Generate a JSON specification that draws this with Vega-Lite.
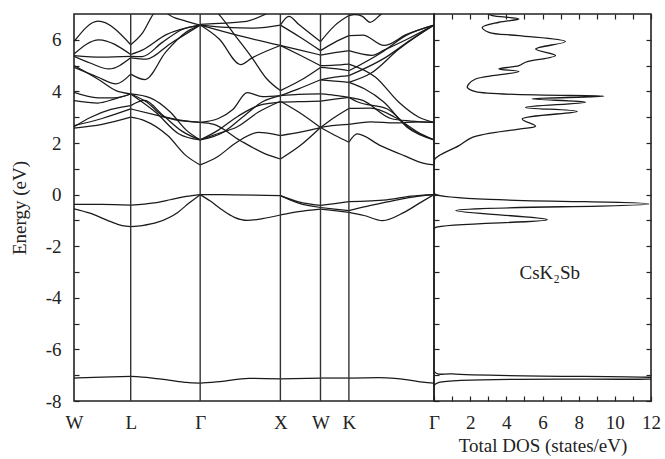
{
"$schema":"https://vega.github.io/schema/vega-lite/v6.json",
"background":"white",
"padding":{"left":9,"top":12,"right":0,"bottom":5},
"config":{
 "font":"Liberation Serif",
 "view":{"stroke":"#222","strokeWidth":1.6},
 "axis":{"domain":false,"grid":false,"labelFont":"Liberation Serif","titleFont":"Liberation Serif","labelColor":"#222","titleColor":"#222","tickColor":"#222","labelFontSize":19,"titleFontSize":19,"titleFontWeight":"normal","tickSize":-5,"tickWidth":1.2,"labelFlush":false}
},
"datasets":{
"kpts":[{"k":0.707},{"k":1.573},{"k":2.573},{"k":3.073},{"k":3.427}],
"lbl":[{"D":6.4,"E":-3.05,"t":"CsK₂Sb"}],
"dos":[
{"E":7.0,"D":3.0},{"E":6.94,"D":3.22},{"E":6.81,"D":4.7},{"E":6.68,"D":3.59},{"E":6.48,"D":2.67},{"E":6.29,"D":3.04},{"E":6.16,"D":4.7},{"E":5.93,"D":7.27},{"E":5.64,"D":5.62},{"E":5.39,"D":6.72},{"E":5.13,"D":5.06},{"E":5.0,"D":4.7},{"E":4.87,"D":3.59},{"E":4.77,"D":4.7},{"E":4.48,"D":2.3},{"E":4.29,"D":1.93},{"E":4.16,"D":1.84},{"E":3.99,"D":2.3},{"E":3.81,"D":9.39},{"E":3.71,"D":5.43},{"E":3.58,"D":8.38},{"E":3.38,"D":5.06},{"E":3.22,"D":7.92},{"E":2.93,"D":4.88},{"E":2.65,"D":5.62},{"E":2.54,"D":4.7},{"E":2.22,"D":2.12},{"E":1.9,"D":1.38},{"E":1.51,"D":0.28},{"E":1.38,"D":0.05},{"E":1.2,"D":0.0},{"E":0.15,"D":0.0},{"E":0.02,"D":0.05},{"E":-0.36,"D":11.88},{"E":-0.62,"D":1.2},{"E":-0.97,"D":6.26},{"E":-1.27,"D":0.09},{"E":-1.35,"D":0.0},{"E":-6.85,"D":0.0},{"E":-6.95,"D":1.01},{"E":-7.08,"D":11.9},{"E":-7.115,"D":13.0},{"E":-7.15,"D":11.9},{"E":-7.28,"D":0.28},{"E":-7.4,"D":0.0},{"E":-8.0,"D":0.0}
],
"bands":[
{"b":"wl_v1","k":0,"E":-0.38},{"b":"wl_v1","k":0.35,"E":-0.38},{"b":"wl_v1","k":0.707,"E":-0.41},
{"b":"wl_v2","k":0,"E":-0.55},{"b":"wl_v2","k":0.2,"E":-0.72},{"b":"wl_v2","k":0.45,"E":-1.04},{"b":"wl_v2","k":0.6,"E":-1.2},{"b":"wl_v2","k":0.707,"E":-1.24},
{"b":"wl_s","k":0,"E":-7.11},{"b":"wl_s","k":0.35,"E":-7.07},{"b":"wl_s","k":0.707,"E":-7.05},
{"b":"wl_c1","k":0,"E":2.58},{"b":"wl_c1","k":0.35,"E":2.72},{"b":"wl_c1","k":0.707,"E":3.0},
{"b":"wl_c2","k":0,"E":2.67},{"b":"wl_c2","k":0.35,"E":2.95},{"b":"wl_c2","k":0.707,"E":3.32},
{"b":"wl_c3","k":0,"E":2.63},{"b":"wl_c3","k":0.21,"E":3.0},{"b":"wl_c3","k":0.46,"E":3.3},{"b":"wl_c3","k":0.707,"E":3.45},
{"b":"wl_c4","k":0,"E":3.96},{"b":"wl_c4","k":0.3,"E":3.75},{"b":"wl_c4","k":0.5,"E":3.75},{"b":"wl_c4","k":0.707,"E":3.9},
{"b":"wl_c5","k":0,"E":3.64},{"b":"wl_c5","k":0.3,"E":3.55},{"b":"wl_c5","k":0.5,"E":3.7},{"b":"wl_c5","k":0.707,"E":3.9},
{"b":"wl_F","k":0,"E":5.0},{"b":"wl_F","k":0.295,"E":4.48},{"b":"wl_F","k":0.524,"E":4.03},{"b":"wl_F","k":0.707,"E":3.9},
{"b":"wl_E","k":0,"E":4.93},{"b":"wl_E","k":0.3,"E":4.55},{"b":"wl_E","k":0.524,"E":4.29},{"b":"wl_E","k":0.707,"E":4.67},
{"b":"wl_D","k":0,"E":5.36},{"b":"wl_D","k":0.2,"E":5.1},{"b":"wl_D","k":0.436,"E":4.87},{"b":"wl_D","k":0.707,"E":5.3},
{"b":"wl_C","k":0,"E":5.39},{"b":"wl_C","k":0.35,"E":5.33},{"b":"wl_C","k":0.707,"E":5.36},
{"b":"wl_B","k":0,"E":5.45},{"b":"wl_B","k":0.31,"E":6.0},{"b":"wl_B","k":0.707,"E":5.43},
{"b":"wl_A","k":0,"E":5.93},{"b":"wl_A","k":0.3,"E":6.72},{"b":"wl_A","k":0.707,"E":5.81},
{"b":"lg_v1","k":0.707,"E":-0.41},{"b":"lg_v1","k":1.0,"E":-0.32},{"b":"lg_v1","k":1.2,"E":-0.2},{"b":"lg_v1","k":1.4,"E":-0.07},{"b":"lg_v1","k":1.573,"E":0},
{"b":"lg_v2","k":0.707,"E":-1.24},{"b":"lg_v2","k":0.85,"E":-1.2},{"b":"lg_v2","k":1.044,"E":-1.07},{"b":"lg_v2","k":1.293,"E":-0.69},{"b":"lg_v2","k":1.434,"E":-0.33},{"b":"lg_v2","k":1.573,"E":0},
{"b":"lg_s","k":0.707,"E":-7.05},{"b":"lg_s","k":0.95,"E":-7.1},{"b":"lg_s","k":1.2,"E":-7.2},{"b":"lg_s","k":1.4,"E":-7.28},{"b":"lg_s","k":1.573,"E":-7.31},
{"b":"lg_c1","k":0.707,"E":3.0},{"b":"lg_c1","k":0.877,"E":2.87},{"b":"lg_c1","k":1.168,"E":2.29},{"b":"lg_c1","k":1.397,"E":1.51},{"b":"lg_c1","k":1.573,"E":1.15},
{"b":"lg_c2","k":0.707,"E":3.32},{"b":"lg_c2","k":1.0,"E":3.1},{"b":"lg_c2","k":1.3,"E":2.88},{"b":"lg_c2","k":1.573,"E":2.8},
{"b":"lg_c3","k":0.707,"E":3.45},{"b":"lg_c3","k":0.88,"E":3.65},{"b":"lg_c3","k":1.1,"E":3.1},{"b":"lg_c3","k":1.35,"E":2.45},{"b":"lg_c3","k":1.573,"E":2.12},
{"b":"lg_c4","k":0.707,"E":3.9},{"b":"lg_c4","k":1.018,"E":3.19},{"b":"lg_c4","k":1.309,"E":2.35},{"b":"lg_c4","k":1.573,"E":2.12},
{"b":"lg_c5","k":0.707,"E":3.9},{"b":"lg_c5","k":0.9,"E":3.6},{"b":"lg_c5","k":1.143,"E":3.0},{"b":"lg_c5","k":1.573,"E":2.8},
{"b":"lg_F","k":0.707,"E":3.9},{"b":"lg_F","k":0.95,"E":3.75},{"b":"lg_F","k":1.2,"E":3.2},{"b":"lg_F","k":1.4,"E":2.5},{"b":"lg_F","k":1.573,"E":2.12},
{"b":"lg_E","k":0.707,"E":4.67},{"b":"lg_E","k":0.885,"E":4.46},{"b":"lg_E","k":1.143,"E":5.52},{"b":"lg_E","k":1.4,"E":6.3},{"b":"lg_E","k":1.573,"E":6.57},
{"b":"lg_D","k":0.707,"E":5.3},{"b":"lg_D","k":0.9,"E":5.25},{"b":"lg_D","k":1.2,"E":5.85},{"b":"lg_D","k":1.573,"E":6.57},
{"b":"lg_C","k":0.707,"E":5.36},{"b":"lg_C","k":0.85,"E":5.35},{"b":"lg_C","k":1.1,"E":5.9},{"b":"lg_C","k":1.35,"E":6.4},{"b":"lg_C","k":1.573,"E":6.57},
{"b":"lg_B","k":0.707,"E":5.43},{"b":"lg_B","k":0.85,"E":5.6},{"b":"lg_B","k":1.15,"E":6.2},{"b":"lg_B","k":1.573,"E":6.57},
{"b":"lg_A","k":0.707,"E":5.81},{"b":"lg_A","k":0.857,"E":6.28},{"b":"lg_A","k":1.0,"E":7.05},{"b":"lg_A","k":1.085,"E":7.3},{"b":"lg_A","k":1.172,"E":7.0},{"b":"lg_A","k":1.376,"E":6.74},{"b":"lg_A","k":1.573,"E":6.57},
{"b":"gx_v1","k":1.573,"E":0},{"b":"gx_v1","k":2.0,"E":-0.01},{"b":"gx_v1","k":2.573,"E":-0.04},
{"b":"gx_v2","k":1.573,"E":0},{"b":"gx_v2","k":1.7,"E":-0.25},{"b":"gx_v2","k":1.85,"E":-0.6},{"b":"gx_v2","k":2.0,"E":-0.88},{"b":"gx_v2","k":2.16,"E":-1.0},{"b":"gx_v2","k":2.35,"E":-0.93},{"b":"gx_v2","k":2.573,"E":-0.79},
{"b":"gx_s","k":1.573,"E":-7.31},{"b":"gx_s","k":1.82,"E":-7.25},{"b":"gx_s","k":2.18,"E":-7.12},{"b":"gx_s","k":2.573,"E":-7.14},
{"b":"gx_c1","k":1.573,"E":1.15},{"b":"gx_c1","k":1.78,"E":1.45},{"b":"gx_c1","k":2.03,"E":2.03},{"b":"gx_c1","k":2.3,"E":2.41},{"b":"gx_c1","k":2.573,"E":2.29},
{"b":"gx_c2","k":1.573,"E":2.8},{"b":"gx_c2","k":1.746,"E":2.72},{"b":"gx_c2","k":2.07,"E":2.1},{"b":"gx_c2","k":2.37,"E":1.6},{"b":"gx_c2","k":2.573,"E":1.38},
{"b":"gx_c3","k":1.573,"E":2.12},{"b":"gx_c3","k":1.78,"E":2.35},{"b":"gx_c3","k":2.03,"E":2.62},{"b":"gx_c3","k":2.3,"E":3.2},{"b":"gx_c3","k":2.573,"E":3.62},
{"b":"gx_c4","k":1.573,"E":2.8},{"b":"gx_c4","k":1.8,"E":2.95},{"b":"gx_c4","k":1.98,"E":3.3},{"b":"gx_c4","k":2.16,"E":3.95},{"b":"gx_c4","k":2.35,"E":3.8},{"b":"gx_c4","k":2.573,"E":3.84},
{"b":"gx_c5","k":1.573,"E":2.12},{"b":"gx_c5","k":1.8,"E":2.5},{"b":"gx_c5","k":2.05,"E":3.05},{"b":"gx_c5","k":2.3,"E":3.45},{"b":"gx_c5","k":2.573,"E":3.58},
{"b":"gx_c6","k":1.573,"E":2.12},{"b":"gx_c6","k":1.85,"E":2.4},{"b":"gx_c6","k":2.1,"E":3.0},{"b":"gx_c6","k":2.35,"E":3.6},{"b":"gx_c6","k":2.573,"E":3.84},
{"b":"gx_b1","k":1.573,"E":6.57},{"b":"gx_b1","k":1.9,"E":6.48},{"b":"gx_b1","k":2.219,"E":6.45},{"b":"gx_b1","k":2.573,"E":6.57},
{"b":"gx_b2","k":1.573,"E":6.6},{"b":"gx_b2","k":2.12,"E":6.7},{"b":"gx_b2","k":2.394,"E":7.0},{"b":"gx_b2","k":2.573,"E":7.3},
{"b":"gx_b3","k":1.573,"E":6.57},{"b":"gx_b3","k":2.07,"E":6.15},{"b":"gx_b3","k":2.573,"E":5.78},
{"b":"gx_b4","k":1.573,"E":6.57},{"b":"gx_b4","k":1.81,"E":6.03},{"b":"gx_b4","k":2.078,"E":5.04},{"b":"gx_b4","k":2.22,"E":5.3},{"b":"gx_b4","k":2.573,"E":5.78},
{"b":"gx_b5","k":1.573,"E":7.6},{"b":"gx_b5","k":1.82,"E":6.94},{"b":"gx_b5","k":2.0,"E":6.2},{"b":"gx_b5","k":2.22,"E":5.3},{"b":"gx_b5","k":2.4,"E":4.5},{"b":"gx_b5","k":2.573,"E":4.03},
{"b":"xw_v1","k":2.573,"E":-0.04},{"b":"xw_v1","k":2.8,"E":-0.28},{"b":"xw_v1","k":3.073,"E":-0.42},
{"b":"xw_v2","k":2.573,"E":-0.04},{"b":"xw_v2","k":2.8,"E":-0.33},{"b":"xw_v2","k":3.073,"E":-0.5},
{"b":"xw_v3","k":2.573,"E":-0.79},{"b":"xw_v3","k":2.8,"E":-0.66},{"b":"xw_v3","k":3.073,"E":-0.56},
{"b":"xw_s","k":2.573,"E":-7.14},{"b":"xw_s","k":3.073,"E":-7.11},
{"b":"xw_c1","k":2.573,"E":2.29},{"b":"xw_c1","k":2.82,"E":2.42},{"b":"xw_c1","k":3.073,"E":2.6},
{"b":"xw_c2","k":2.573,"E":1.38},{"b":"xw_c2","k":2.82,"E":1.9},{"b":"xw_c2","k":3.073,"E":2.6},
{"b":"xw_c3","k":2.573,"E":3.62},{"b":"xw_c3","k":2.8,"E":3.2},{"b":"xw_c3","k":3.073,"E":2.6},
{"b":"xw_c4","k":2.573,"E":3.84},{"b":"xw_c4","k":2.8,"E":3.88},{"b":"xw_c4","k":3.073,"E":3.9},
{"b":"xw_c5","k":2.573,"E":3.58},{"b":"xw_c5","k":2.8,"E":3.6},{"b":"xw_c5","k":3.073,"E":3.62},
{"b":"xw_c6","k":2.573,"E":3.84},{"b":"xw_c6","k":2.8,"E":4.1},{"b":"xw_c6","k":3.073,"E":4.45},
{"b":"xw_b5","k":2.573,"E":4.03},{"b":"xw_b5","k":2.82,"E":4.42},{"b":"xw_b5","k":3.073,"E":4.93},
{"b":"xw_b3","k":2.573,"E":5.78},{"b":"xw_b3","k":2.82,"E":5.6},{"b":"xw_b3","k":3.073,"E":5.41},
{"b":"xw_b4","k":2.573,"E":5.78},{"b":"xw_b4","k":2.82,"E":5.4},{"b":"xw_b4","k":3.073,"E":5.0},
{"b":"xw_b1","k":2.573,"E":6.57},{"b":"xw_b1","k":2.68,"E":6.91},{"b":"xw_b1","k":2.8,"E":6.6},{"b":"xw_b1","k":3.073,"E":5.93},
{"b":"xw_b6","k":2.573,"E":6.57},{"b":"xw_b6","k":2.82,"E":6.1},{"b":"xw_b6","k":3.073,"E":5.58},
{"b":"wk_v1","k":3.073,"E":-0.42},{"b":"wk_v1","k":3.25,"E":-0.35},{"b":"wk_v1","k":3.427,"E":-0.27},
{"b":"wk_v2","k":3.073,"E":-0.5},{"b":"wk_v2","k":3.25,"E":-0.56},{"b":"wk_v2","k":3.427,"E":-0.62},
{"b":"wk_v3","k":3.073,"E":-0.56},{"b":"wk_v3","k":3.25,"E":-0.62},{"b":"wk_v3","k":3.427,"E":-0.69},
{"b":"wk_s","k":3.073,"E":-7.11},{"b":"wk_s","k":3.427,"E":-7.11},
{"b":"wk_c1","k":3.073,"E":2.6},{"b":"wk_c1","k":3.25,"E":2.3},{"b":"wk_c1","k":3.427,"E":2.03},
{"b":"wk_c2","k":3.073,"E":2.6},{"b":"wk_c2","k":3.25,"E":2.68},{"b":"wk_c2","k":3.427,"E":2.72},
{"b":"wk_c3","k":3.073,"E":2.6},{"b":"wk_c3","k":3.25,"E":3.0},{"b":"wk_c3","k":3.427,"E":3.34},
{"b":"wk_c4","k":3.073,"E":3.9},{"b":"wk_c4","k":3.25,"E":3.85},{"b":"wk_c4","k":3.427,"E":3.77},
{"b":"wk_c5","k":3.073,"E":3.62},{"b":"wk_c5","k":3.25,"E":3.7},{"b":"wk_c5","k":3.427,"E":3.77},
{"b":"wk_c6","k":3.073,"E":4.45},{"b":"wk_c6","k":3.25,"E":4.55},{"b":"wk_c6","k":3.427,"E":4.61},
{"b":"wk_x","k":3.073,"E":4.45},{"b":"wk_x","k":3.25,"E":4.4},{"b":"wk_x","k":3.427,"E":4.35},
{"b":"wk_b5","k":3.073,"E":4.93},{"b":"wk_b5","k":3.25,"E":4.88},{"b":"wk_b5","k":3.427,"E":4.8},
{"b":"wk_b4","k":3.073,"E":5.0},{"b":"wk_b4","k":3.25,"E":5.02},{"b":"wk_b4","k":3.427,"E":5.06},
{"b":"wk_b3","k":3.073,"E":5.41},{"b":"wk_b3","k":3.25,"E":5.5},{"b":"wk_b3","k":3.427,"E":5.58},
{"b":"wk_b6","k":3.073,"E":5.58},{"b":"wk_b6","k":3.25,"E":5.9},{"b":"wk_b6","k":3.427,"E":6.16},
{"b":"wk_b1","k":3.073,"E":5.93},{"b":"wk_b1","k":3.25,"E":6.55},{"b":"wk_b1","k":3.427,"E":6.94},
{"b":"kg_v1","k":3.427,"E":-0.27},{"b":"kg_v1","k":3.9,"E":-0.2},{"b":"kg_v1","k":4.2,"E":-0.06},{"b":"kg_v1","k":4.488,"E":0},
{"b":"kg_v2","k":3.427,"E":-0.62},{"b":"kg_v2","k":3.7,"E":-0.42},{"b":"kg_v2","k":4.0,"E":-0.22},{"b":"kg_v2","k":4.3,"E":-0.06},{"b":"kg_v2","k":4.488,"E":0},
{"b":"kg_v3","k":3.427,"E":-0.69},{"b":"kg_v3","k":3.616,"E":-0.81},{"b":"kg_v3","k":3.844,"E":-1.01},{"b":"kg_v3","k":4.115,"E":-0.69},{"b":"kg_v3","k":4.323,"E":-0.3},{"b":"kg_v3","k":4.488,"E":0},
{"b":"kg_s","k":3.427,"E":-7.11},{"b":"kg_s","k":3.8,"E":-7.09},{"b":"kg_s","k":4.0,"E":-7.12},{"b":"kg_s","k":4.2,"E":-7.2},{"b":"kg_s","k":4.35,"E":-7.27},{"b":"kg_s","k":4.488,"E":-7.31},
{"b":"kg_c1","k":3.427,"E":2.03},{"b":"kg_c1","k":3.53,"E":2.35},{"b":"kg_c1","k":3.82,"E":1.9},{"b":"kg_c1","k":4.115,"E":1.51},{"b":"kg_c1","k":4.35,"E":1.22},{"b":"kg_c1","k":4.488,"E":1.15},
{"b":"kg_c2","k":3.427,"E":2.72},{"b":"kg_c2","k":3.7,"E":2.82},{"b":"kg_c2","k":4.0,"E":2.78},{"b":"kg_c2","k":4.3,"E":2.82},{"b":"kg_c2","k":4.488,"E":2.8},
{"b":"kg_c3","k":3.427,"E":3.34},{"b":"kg_c3","k":3.7,"E":3.35},{"b":"kg_c3","k":4.0,"E":3.0},{"b":"kg_c3","k":4.3,"E":2.4},{"b":"kg_c3","k":4.488,"E":2.12},
{"b":"kg_c4","k":3.427,"E":3.77},{"b":"kg_c4","k":3.53,"E":3.6},{"b":"kg_c4","k":3.907,"E":3.32},{"b":"kg_c4","k":4.198,"E":2.54},{"b":"kg_c4","k":4.488,"E":2.12},
{"b":"kg_c5","k":3.427,"E":3.77},{"b":"kg_c5","k":3.6,"E":3.65},{"b":"kg_c5","k":3.95,"E":2.95},{"b":"kg_c5","k":4.2,"E":2.85},{"b":"kg_c5","k":4.488,"E":2.8},
{"b":"kg_c6","k":3.427,"E":4.35},{"b":"kg_c6","k":3.62,"E":4.1},{"b":"kg_c6","k":3.865,"E":3.58},{"b":"kg_c6","k":4.156,"E":2.6},{"b":"kg_c6","k":4.488,"E":2.12},
{"b":"kg_b4","k":3.427,"E":5.06},{"b":"kg_b4","k":3.76,"E":4.55},{"b":"kg_b4","k":4.05,"E":3.58},{"b":"kg_b4","k":4.3,"E":3.0},{"b":"kg_b4","k":4.488,"E":2.8},
{"b":"kg_u1","k":3.427,"E":4.8},{"b":"kg_u1","k":3.84,"E":5.52},{"b":"kg_u1","k":4.136,"E":6.16},{"b":"kg_u1","k":4.488,"E":6.57},
{"b":"kg_u2","k":3.427,"E":4.61},{"b":"kg_u2","k":3.886,"E":5.32},{"b":"kg_u2","k":4.2,"E":6.0},{"b":"kg_u2","k":4.488,"E":6.57},
{"b":"kg_u3","k":3.427,"E":4.35},{"b":"kg_u3","k":3.7,"E":4.7},{"b":"kg_u3","k":4.052,"E":5.64},{"b":"kg_u3","k":4.488,"E":6.57},
{"b":"kg_b6","k":3.427,"E":6.16},{"b":"kg_b6","k":3.6,"E":6.18},{"b":"kg_b6","k":3.865,"E":5.78},{"b":"kg_b6","k":4.14,"E":6.2},{"b":"kg_b6","k":4.488,"E":6.57},
{"b":"kg_b3","k":3.427,"E":5.58},{"b":"kg_b3","k":3.716,"E":5.4},{"b":"kg_b3","k":3.865,"E":5.6},{"b":"kg_b3","k":4.14,"E":6.0},{"b":"kg_b3","k":4.488,"E":6.57},
{"b":"kg_b1","k":3.427,"E":6.94},{"b":"kg_b1","k":3.5,"E":6.98},{"b":"kg_b1","k":3.59,"E":6.92},{"b":"kg_b1","k":3.69,"E":6.68},{"b":"kg_b1","k":3.81,"E":6.94},{"b":"kg_b1","k":3.95,"E":7.3},{"b":"kg_b1","k":4.488,"E":7.6}
]
},
"spacing":0,
"bounds":"flush",
"hconcat":[
{
 "width":360,"height":387,
 "layer":[
  {"data":{"name":"bands"},
   "mark":{"type":"line","interpolate":"monotone","clip":true,"strokeWidth":1.25,"color":"#1a1a1a"},
   "encoding":{
    "x":{"field":"k","type":"quantitative","scale":{"domain":[0,4.488],"nice":false,"zero":false},
     "axis":{"values":[0,0.707,1.573,2.573,3.073,3.427,4.488],"ticks":false,"labelPadding":12,"title":null,
      "labelExpr":"datum.value < 0.3 ? 'W' : datum.value < 1 ? 'L' : datum.value < 2 ? 'Γ' : datum.value < 2.8 ? 'X' : datum.value < 3.2 ? 'W' : datum.value < 4 ? 'K' : 'Γ'"}},
    "y":{"field":"E","type":"quantitative","scale":{"domain":[-8,7],"nice":false,"zero":false},
     "axis":{"values":[-8,-7,-6,-5,-4,-3,-2,-1,0,1,2,3,4,5,6],"labelPadding":18,"title":"Energy (eV)","titlePadding":16,
      "labelExpr":"datum.value % 2 == 0 ? (datum.value < 0 ? '-' + abs(datum.value) : '' + datum.value) : ''"}},
    "detail":{"field":"b"}
   }},
  {"data":{"name":"kpts"},
   "mark":{"type":"rule","color":"#333","strokeWidth":1.4},
   "encoding":{"x":{"field":"k","type":"quantitative"}}}
 ]
},
{
 "width":217,"height":387,
 "layer":[
  {"data":{"name":"dos"},
   "mark":{"type":"line","clip":true,"interpolate":"catmull-rom","strokeWidth":1.3,"color":"#1a1a1a"},
   "encoding":{
    "x":{"field":"D","type":"quantitative","scale":{"domain":[0,12],"nice":false,"zero":false},
     "axis":{"orient":"bottom","values":[0,1,2,3,4,5,6,7,8,9,10,11,12],"labelPadding":17,"title":"Total DOS (states/eV)","titlePadding":4,
      "labelExpr":"datum.value % 2 == 0 && datum.value > 0 ? datum.label : ''"}},
    "y":{"field":"E","type":"quantitative","scale":{"domain":[-8,7],"nice":false,"zero":false},
     "axis":{"orient":"left","values":[-8,-7,-6,-5,-4,-3,-2,-1,0,1,2,3,4,5,6],"labels":false,"title":null}},
    "order":{"field":"E","sort":"descending"}
   }},
  {"data":{"name":"lbl"},
   "mark":{"type":"text","fontSize":19,"font":"Liberation Serif","color":"#222"},
   "encoding":{
    "x":{"field":"D","type":"quantitative","scale":{"domain":[0,12],"nice":false,"zero":false},
     "axis":{"orient":"top","values":[0,1,2,3,4,5,6,7,8,9,10,11,12],"labels":false,"title":null}},
    "y":{"field":"E","type":"quantitative","scale":{"domain":[-8,7],"nice":false,"zero":false},
     "axis":{"orient":"right","values":[-8,-7,-6,-5,-4,-3,-2,-1,0,1,2,3,4,5,6],"labels":false,"title":null}},
    "text":{"field":"t"}
   }}
 ],
 "resolve":{"axis":{"x":"independent","y":"independent"}}
}
]
}
